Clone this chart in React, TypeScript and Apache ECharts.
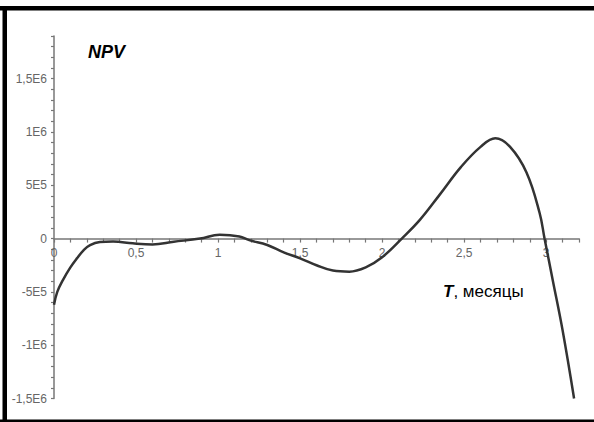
import React, { useEffect, useRef } from "react";
import * as echarts from "echarts";

const T_VALUES = [0, 0.02, 0.055, 0.1, 0.14, 0.18, 0.22, 0.28, 0.36, 0.48, 0.6, 0.73, 0.89, 1.01, 1.13, 1.19, 1.3, 1.4, 1.5, 1.6, 1.7, 1.8, 1.9, 2.0, 2.12, 2.23, 2.35, 2.48, 2.6, 2.69, 2.78, 2.88, 2.96, 2.99, 3.04, 3.1, 3.17];
const NPV_VALUES = [-620000, -500000, -387000, -270000, -185000, -110000, -62000, -33000, -27000, -45000, -55000, -30000, 0, 35000, 20000, -15000, -60000, -130000, -185000, -250000, -300000, -310000, -270000, -175000, 0, 175000, 410000, 670000, 860000, 940000, 860000, 620000, 240000, 0, -390000, -860000, -1500000];

const X_LABELS = [0, 0.5, 1, 1.5, 2, 2.5, 3];
const Y_LABELS = [-1500000, -1000000, -500000, 0, 500000, 1000000, 1500000];

const Y_MIN = -1500000;
const Y_MAX = 1900000;

function fmtX(v: number): string {
  const hit = X_LABELS.find((l) => Math.abs(l - v) < 1e-6);
  if (hit === undefined) return "";
  return String(hit).replace(".", ",");
}

function fmtY(v: number): string {
  const hit = Y_LABELS.find((l) => Math.abs(l - v) < 1);
  if (hit === undefined) return "";
  if (hit === 0) return "0";
  const sign = hit < 0 ? "-" : "";
  const a = Math.abs(hit);
  const e = Math.floor(Math.log10(a));
  const m = a / Math.pow(10, e);
  return sign + String(m).replace(".", ",") + "E" + e;
}

export default function App() {
  const ref = useRef<HTMLDivElement>(null);
  useEffect(() => {
    if (!ref.current) return;
    const chart = echarts.init(ref.current, null, { renderer: "svg" });
    const axisColor = "#777";
    const labelColor = "#666";
    const gridTop = 36;
    const gridBottom = 23.5;
    const gridHeight = 422 - gridTop - gridBottom;
    const zeroOffset = -gridHeight * (0 - Y_MIN) / (Y_MAX - Y_MIN);
    chart.setOption({
      animation: false,
      backgroundColor: "#fff",
      grid: { left: 54, right: 15, top: gridTop, bottom: gridBottom, containLabel: false },
      xAxis: {
        type: "value",
        min: 0,
        max: 3.2,
        interval: 0.1,
        position: "bottom",
        offset: zeroOffset,
        axisLine: { onZero: false, lineStyle: { color: axisColor, width: 1.5 } },
        axisTick: { show: true, length: 4, inside: false, lineStyle: { color: axisColor, width: 1.2 } },
        axisLabel: {
          interval: 0,
          formatter: (v: number) => fmtX(v),
          color: labelColor,
          fontSize: 12,
          fontFamily: "Liberation Sans, Arial, sans-serif",
          margin: 8,
          showMaxLabel: true,
        },
        splitLine: { show: false },
      },
      yAxis: {
        type: "value",
        min: Y_MIN,
        max: Y_MAX,
        interval: 100000,
        axisLine: { show: true, onZero: false, lineStyle: { color: axisColor, width: 1.5 } },
        axisTick: { show: true, length: 3, lineStyle: { color: axisColor, width: 1.2 } },
        axisLabel: {
          interval: 0,
          formatter: (v: number) => fmtY(v),
          color: labelColor,
          fontSize: 12,
          fontFamily: "Liberation Sans, Arial, sans-serif",
          margin: 7,
        },
        splitLine: { show: false },
      },
      series: [
        {
          type: "line",
          data: T_VALUES.map((t, i) => [t, NPV_VALUES[i]]),
          smooth: 0.4,
          showSymbol: false,
          symbol: "none",
          lineStyle: { color: "#333", width: 2.5 },
        },
      ],
      graphic: [
        { type: "rect", shape: { x: 0, y: 6, width: 594, height: 4.5 }, style: { fill: "#000" } },
        { type: "rect", shape: { x: 2.5, y: 6, width: 4.5, height: 416 }, style: { fill: "#000" } },
        { type: "rect", shape: { x: 0, y: 419.5, width: 594, height: 3 }, style: { fill: "#000" } },
        {
          type: "text",
          left: 88,
          top: 43,
          style: {
            text: "NPV",
            fill: "#000",
            font: "italic bold 18px 'Liberation Sans', Arial, sans-serif",
          },
        },
        {
          type: "text",
          left: 443,
          top: 283,
          style: {
            rich: {
              t: { fontStyle: "italic", fontWeight: "bold", fontSize: 17, fontFamily: "Liberation Sans, Arial, sans-serif", fill: "#000" },
              r: { fontSize: 17, fontFamily: "Liberation Sans, Arial, sans-serif", fill: "#000" },
            },
            text: "{t|T}{r|, месяцы}",
          },
        },
      ],
    });
    return () => chart.dispose();
  }, []);
  return (
    <div
      ref={ref}
      style={{ position: "fixed", left: 0, top: 0, width: 594, height: 422 }}
    />
  );
}
